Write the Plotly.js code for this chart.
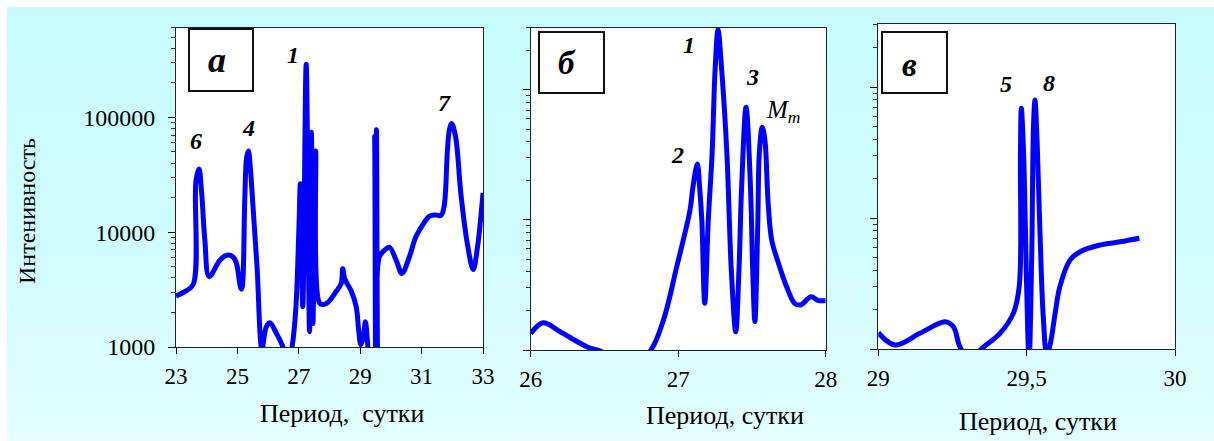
<!DOCTYPE html>
<html>
<head>
<meta charset="utf-8">
<script src="https://cdn.plot.ly/plotly-3.0.1.min.js"></script>
<style>
  html, body { margin: 0; padding: 0; background: #ffffff; }
  #wrap { position: relative; width: 1214px; height: 441px; overflow: hidden; background: #ffffff; }
  #bg { position: absolute; left: 7px; top: 7px; right: 0; bottom: 0;
        background: linear-gradient(to bottom, #c7fcfd 0%, #d2fcfd 60%, #e4fefe 100%); }
  #chart { position: absolute; left: 0; top: 0; width: 1214px; height: 441px; }
</style>
</head>
<body>
<div id="wrap"><div id="bg"></div><div id="chart"></div></div>
<script>
// ---- Panel a: full range 23–33 days ----
const aPeriod = [23.0, 23.3, 23.56, 23.65, 23.75, 23.83, 23.94, 24.08, 24.43, 24.65, 24.86, 24.97, 25.1, 25.14,
  25.24, 25.3, 25.36, 25.42, 25.51, 25.64, 25.8, 25.94, 26.06, 26.27, 26.49, 26.62, 26.78, 26.9, 27.0, 27.05,
  27.13, 27.24, 27.35, 27.41, 27.46, 27.55, 27.68, 27.82, 27.95, 28.2, 28.38, 28.43, 28.5, 28.7, 28.87, 28.95,
  29.02, 29.1, 29.17, 29.24, 29.3, 29.42, 29.47, 29.5, 29.53, 29.57, 29.62, 29.79, 29.95, 30.17, 30.36, 30.6,
  30.81, 31.03, 31.25, 31.45, 31.63, 31.73, 31.84, 31.9, 31.98, 32.11, 32.28, 32.49, 32.68, 32.82, 33.0];
const aIntensity = [2780, 3050, 3500, 28000, 35500, 23000, 8500, 4100, 5700, 6300, 6080, 5350, 3330, 3200,
  18900, 44800, 51000, 36700, 16500, 4980, 960, 1500, 1625, 1315, 990, 650, 1000, 2100, 10000, 26400,
  2240, 290000, 1360, 74000, 1600, 51000, 2400, 2350, 2450, 3000, 3570, 4800, 3900, 3100, 2240, 1400,
  1050, 1200, 1660, 1100, 800, 800, 68000, 800, 78000, 800, 6070, 6950, 7400, 5700, 4370, 6080,
  9060, 11500, 13700, 14100, 14000, 16500, 51000, 76000, 88500, 67000, 21500, 7930, 4720, 7400, 22000];

// ---- Panel б: 26–28 days ----
const bPeriod = [26.0, 26.085, 26.2, 26.38, 26.49, 26.65, 26.81, 26.9, 26.99, 27.08, 27.1, 27.13, 27.145, 27.16,
  27.18, 27.204, 27.23, 27.25, 27.27, 27.295, 27.33, 27.36, 27.39, 27.412, 27.43, 27.46, 27.49, 27.505, 27.52,
  27.54, 27.55, 27.57, 27.588, 27.61, 27.634, 27.68, 27.735, 27.79, 27.83, 27.9, 27.95, 28.0];
const bIntensity = [1340, 1620, 1380, 1060, 960, 700, 980, 1700, 4370, 11900, 18000, 27000, 18000, 10000,
  2285, 10000, 32700, 142000, 290000, 142000, 32700, 4130, 1380, 4130, 18000, 73600, 18000, 4130, 1650,
  10000, 32700, 51600, 41000, 13400, 7020, 4640, 3070, 2285, 2220, 2570, 2400, 2400];

// ---- Panel в: 29–30 days ----
const cPeriod = [29.0, 29.056, 29.14, 29.225, 29.253, 29.275, 29.31, 29.343, 29.41, 29.455, 29.475, 29.479,
  29.482, 29.49, 29.5, 29.508, 29.517, 29.523, 29.528, 29.535, 29.545, 29.556, 29.568, 29.58, 29.596, 29.612,
  29.646, 29.68, 29.747, 29.815, 29.88];
const cIntensity = [1330, 1073, 1317, 1615, 1480, 1040, 800, 980, 1317, 1870, 3000, 30000,
  69000, 30000, 3000, 800, 5000, 50000, 79500, 40000, 7620, 1760, 900, 1100, 1870, 2990,
  4770, 5530, 6220, 6580, 7000];

// ---- Tick labels ----
const aTickVals = [23, 25, 27, 29, 31, 33];
const aTickText = ['23', '25', '27', '29', '31', '33'];
const bTickVals = [26, 27, 28];
const bTickText = ['26', '27', '28'];
const cTickVals = [29, 29.5, 30];
const cTickText = ['29', '29,5', '30'];
const yTickVals = [1000, 10000, 100000];
const yTickText = ['1000', '10000', '100000'];
const yMinorA = [2000,3000,4000,5000,6000,7000,8000,9000,20000,30000,40000,50000,60000,70000,80000,90000,200000,300000,400000,500000,600000];
const yMinorBC = [2000,3000,4000,5000,6000,7000,8000,9000,20000,30000,40000,50000,60000,70000,80000,90000,200000,300000];

// ---- Text ----
const xTitle = 'Период, сутки';
const xTitleA = 'Период,\u00A0 сутки';
const yTitle = 'Интенивность';
const panelLetters = ['а', 'б', 'в'];

const FONT = 'Liberation Serif, Times New Roman, serif';
const W = 1214, H = 441;
const px = v => v / W;
const py = v => 1 - v / H;

const lineStyle = { color: '#0000ff', width: 5, shape: 'spline', smoothing: 1.0 };

const traces = [
  { x: aPeriod, y: aIntensity, xaxis: 'x', yaxis: 'y', mode: 'lines', line: lineStyle, hoverinfo: 'skip' },
  { x: bPeriod, y: bIntensity, xaxis: 'x2', yaxis: 'y2', mode: 'lines', line: lineStyle, hoverinfo: 'skip' },
  { x: cPeriod, y: cIntensity, xaxis: 'x3', yaxis: 'y3', mode: 'lines', line: lineStyle, hoverinfo: 'skip' }
];

function xAx(domain, range, vals, text, anchor) {
  return {
    domain, range, anchor, tickvals: vals, ticktext: text,
    ticks: 'outside', ticklen: 6, tickwidth: 1, tickcolor: '#000',
    showline: true, linecolor: '#222', linewidth: 1, mirror: true,
    showgrid: false, zeroline: false, ticklabelstandoff: 2,
    tickfont: { family: FONT, size: 23, color: '#000' }
  };
}
function yAx(domain, range, minor, showLabels, anchor) {
  const ax = {
    domain, type: 'log', range, anchor,
    tickvals: yTickVals,
    showticklabels: showLabels,
    ticks: 'outside', ticklen: 7, tickwidth: 1, tickcolor: '#000',
    minor: { tickvals: minor, ticks: 'outside', ticklen: 4, tickwidth: 1, tickcolor: '#333', showgrid: false },
    showline: true, linecolor: '#222', linewidth: 1, mirror: true,
    showgrid: false, zeroline: false, ticklabelstandoff: 8,
    tickfont: { family: FONT, size: 24, color: '#000' }
  };
  if (showLabels) ax.ticktext = yTickText;
  return ax;
}

const ann = (text, x, y, xref, yref, size, extra) => Object.assign({
  text, x, y, xref, yref, showarrow: false, xanchor: 'center', yanchor: 'middle',
  font: { family: FONT, size: size, color: '#000' }
}, extra || {});

const annotations = [
  // peak labels, placed in data coordinates (log10 for y)
  ann('<b><i>6</i></b>', 23.65, 4.797, 'x', 'y', 24),
  ann('<b><i>4</i></b>', 25.35, 4.904, 'x', 'y', 24),
  ann('<b><i>1</i></b>', 26.81, 5.541, 'x', 'y', 24),
  ann('<b><i>7</i></b>', 31.73, 5.124, 'x', 'y', 24),
  ann('<b><i>1</i></b>', 27.075, 5.346, 'x2', 'y2', 24),
  ann('<b><i>2</i></b>', 26.997, 4.5, 'x2', 'y2', 24),
  ann('<b><i>3</i></b>', 27.505, 5.098, 'x2', 'y2', 24),
  ann('<i>M</i><sub><i>m</i></sub>', 27.713, 4.831, 'x2', 'y2', 25),
  ann('<b><i>5</i></b>', 29.43, 5.023, 'x3', 'y3', 24),
  ann('<b><i>8</i></b>', 29.575, 5.028, 'x3', 'y3', 24),
  // panel letters
  ann('<b><i>' + panelLetters[0] + '</i></b>', px(217), py(60), 'paper', 'paper', 36),
  ann('<b><i>' + panelLetters[1] + '</i></b>', px(567), py(63), 'paper', 'paper', 33),
  ann('<b><i>' + panelLetters[2] + '</i></b>', px(909), py(65), 'paper', 'paper', 33),
  // axis titles
  ann(xTitleA, px(342), py(413), 'paper', 'paper', 26),
  ann(xTitle, px(725), py(415), 'paper', 'paper', 26),
  ann(xTitle, px(1037.5), py(421), 'paper', 'paper', 26),
  ann(yTitle, px(27), py(211), 'paper', 'paper', 24, { textangle: -90 })
];

const box = (x0, y0, x1, y1) => ({
  type: 'rect', xref: 'paper', yref: 'paper',
  x0: px(x0), x1: px(x1), y0: py(y1), y1: py(y0),
  line: { color: '#111', width: 2 }, fillcolor: 'rgba(0,0,0,0)'
});

const layout = {
  width: W, height: H,
  margin: { l: 0, r: 0, t: 0, b: 0 },
  paper_bgcolor: 'rgba(0,0,0,0)',
  plot_bgcolor: '#ffffff',
  showlegend: false,
  font: { family: FONT, color: '#000' },
  xaxis: xAx([px(176), px(483)], [23, 33], aTickVals, aTickText, 'y'),
  yaxis: yAx([py(347), py(28)], [3, 5.778], yMinorA, true, 'x'),
  xaxis2: xAx([px(530.7), px(825.7)], [26, 28], bTickVals, bTickText, 'y2'),
  yaxis2: yAx([py(350), py(27.7)], [3, 5.479], yMinorBC, false, 'x2'),
  xaxis3: xAx([px(878.3), px(1175)], [29, 30], cTickVals, cTickText, 'y3'),
  yaxis3: yAx([py(349), py(24.3)], [3, 5.479], yMinorBC, false, 'x3'),
  annotations,
  shapes: [box(189, 29, 253, 91), box(539, 32, 604, 93), box(882, 32, 947, 93)]
};

Plotly.newPlot('chart', traces, layout, { staticPlot: true, displayModeBar: false });
</script>
</body>
</html>
